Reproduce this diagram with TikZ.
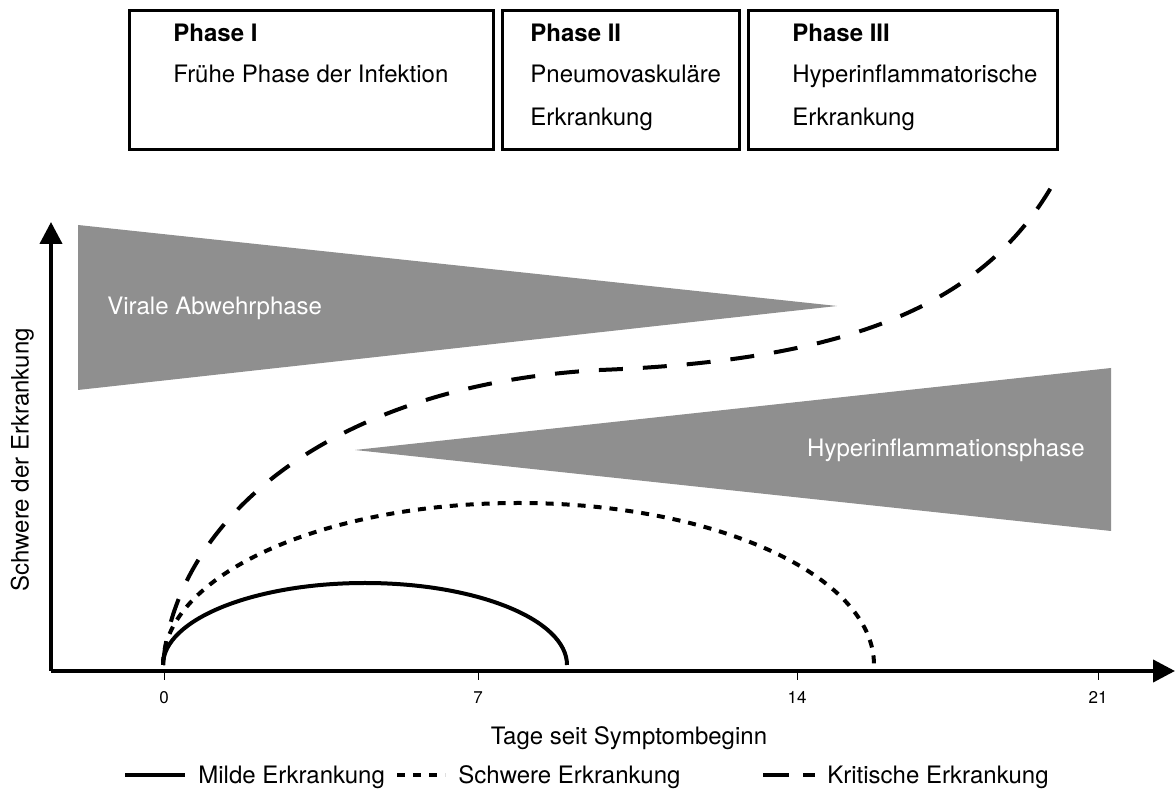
\documentclass[tikz,border=0pt]{standalone}
\usepackage{fontspec}
\setmainfont{TeX Gyre Heros}
\usetikzlibrary{arrows.meta}
\definecolor{phasegray}{RGB}{143,143,143}
\tikzset{
  phasebox/.style={draw,line width=1.5pt,minimum height=69.5pt,inner sep=0pt},
  boxtext/.style={anchor=base west,inner sep=0pt},
  axis/.style={line width=2pt,-{Triangle[length=11pt,width=11pt]}},
  mild/.style={line width=2pt},
  severe/.style={line width=2pt,dash pattern=on 4pt off 4pt},
  critical/.style={line width=2pt,dash pattern=on 12pt off 10pt},
  ticklabel/.style={anchor=base,inner sep=0pt,font=\fontsize{8.5}{10}\selectfont},
}
\begin{document}
\begin{tikzpicture}[x=0.5pt,y=0.5pt,font=\fontsize{12}{14}\selectfont]
\useasboundingbox (0,0) rectangle (1176,791);
% phase boxes
\node[phasebox,minimum width=182pt] (ph1) at (311,710.5) {};
\node[phasebox,minimum width=118.5pt] (ph2) at (620.5,710.5) {};
\node[phasebox,minimum width=154.5pt] (ph3) at (902.5,710.5) {};
\node[boxtext,font=\fontsize{12}{14}\bfseries] (ph1title) at (173,749.5) {Phase I};
\node[boxtext] (ph1text) at (173,708.5) {Frühe Phase der Infektion};
\node[boxtext,font=\fontsize{12}{14}\bfseries] (ph2title) at (530,749.5) {Phase II};
\node[boxtext] (ph2text) at (530,708.5) {Pneumovaskuläre};
\node[boxtext] (ph2more) at (530,665.5) {Erkrankung};
\node[boxtext,font=\fontsize{12}{14}\bfseries] (ph3title) at (792,749.5) {Phase III};
\node[boxtext] (ph3text) at (792,708.5) {Hyperinflammatorische};
\node[boxtext] (ph3more) at (792,665.5) {Erkrankung};
% immune phases
\fill[phasegray] (78,566) -- (78,401) -- (837,485) -- cycle;
\node[boxtext,text=white] (viral) at (107,476.5) {Virale Abwehrphase};
\fill[phasegray] (355,341) -- (1111,423) -- (1111,260) -- cycle;
\node[boxtext,anchor=base east,text=white] (hyper) at (1085,334.5) {Hyperinflammationsphase};
% axes
\coordinate (o) at (51,120);
\coordinate (xend) at (1175,120);
\coordinate (yend) at (51,569);
\coordinate (start) at (163,126);
\draw[axis] (o) -- (xend);
\draw[axis] (o) -- (yend);
\foreach \d/\x in {0/164,7/478,14/797,21/1098}{
  \draw[line width=0.5pt] (\x,120) -- (\x,111);
  \node[ticklabel] (tick\d) at (\x,87.5) {\d};
}
\node[anchor=base,inner sep=0pt] (xlabel) at (629,46.5) {Tage seit Symptombeginn};
\node[anchor=base,inner sep=0pt,rotate=90] (ylabel) at (28.5,331) {Schwere der Erkrankung};
% courses
\draw[mild] (start) arc[start angle=180,end angle=0,x radius=202,y radius=82];
\draw[severe] (start) arc[start angle=180,end angle=0,x radius=355.5,y radius=162];
\draw[critical] (start) .. controls (175,271) and (330,406) .. (600,421)
  .. controls (860,431) and (990,491) .. (1057,614);
% legend
\draw[mild] (125,16) -- (185,16);
\node[boxtext] (lgmild) at (198,7.5) {Milde Erkrankung};
\draw[severe] (397,16) -- (445,16);
\node[boxtext] (lgsevere) at (458,7.5) {Schwere Erkrankung};
\draw[line width=2pt,dash pattern=on 13pt off 7pt] (763,16) -- (815,16);
\node[boxtext] (lgcrit) at (827,7.5) {Kritische Erkrankung};
\end{tikzpicture}
\end{document}
